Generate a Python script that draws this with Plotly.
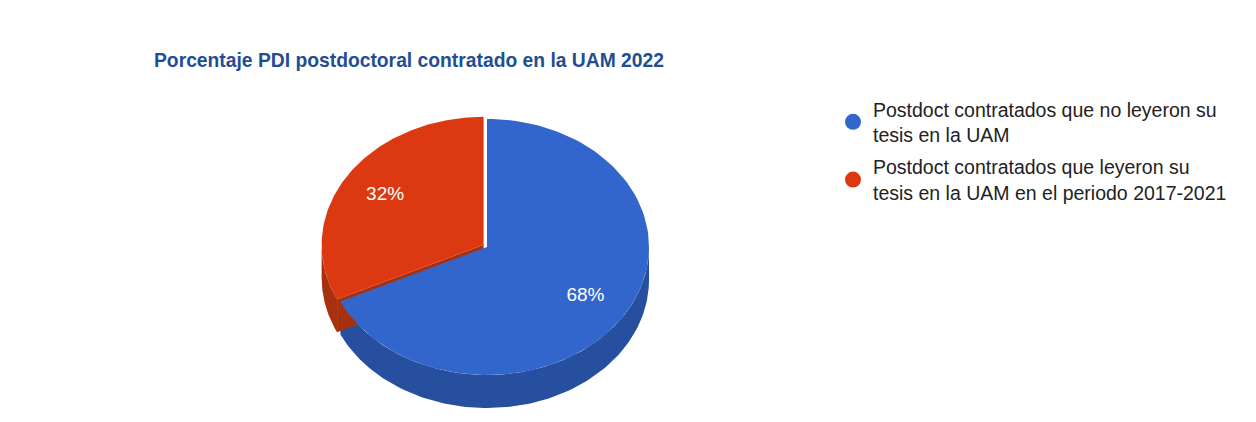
import numpy as np
import plotly.graph_objects as go

title = "Porcentaje PDI postdoctoral contratado en la UAM 2022"
labels = ["Postdoct contratados que no leyeron su<br>tesis en la UAM",
          "Postdoct contratados que leyeron su<br>tesis en la UAM en el periodo 2017-2021"]
values = [68, 32]
colors = ["#3366cc", "#dc3912"]
side_colors = ["#274f9f", "#a9300f"]

FONT = "Arial, Liberation Sans"
W, H = 1240, 406  # page body has an 8px margin

# pie geometry (pixel-like units, y up)
rx, ry, depth = 162, 128, 33
cx, cy = 479, 239
explode = [0, 4]

total = sum(values)
angles = np.cumsum([0] + values) / total * 360.0


def arc(a0, a1, n=120):
    t = np.radians(np.linspace(a0, a1, n))
    return rx * np.sin(t), ry * np.cos(t)


fig = go.Figure()
slices = []
for i, v in enumerate(values):
    a0, a1 = angles[i], angles[i + 1]
    mid = np.radians((a0 + a1) / 2)
    dx, dy = explode[i] * np.sin(mid), explode[i] * np.cos(mid)
    slices.append((a0, a1, dx, dy))

# side walls (front half only: 90..270 deg clockwise from top)
for i, (a0, a1, dx, dy) in enumerate(slices):
    s0, s1 = max(a0, 90), min(a1, 270)
    if s0 < s1:
        x, y = arc(s0, s1)
        xs = np.concatenate([x, x[::-1]]) + dx
        ys = np.concatenate([y, y[::-1] - depth]) + dy
        fig.add_trace(go.Scatter(x=xs, y=ys, fill="toself", mode="lines",
                                 line=dict(width=0, color=side_colors[i]),
                                 fillcolor=side_colors[i], hoverinfo="skip",
                                 showlegend=False))
    # radial face at start angle of the exploded slice
    if explode[i] and 90 < a0 < 270:
        ex, ey = rx * np.sin(np.radians(a0)), ry * np.cos(np.radians(a0))
        fig.add_trace(go.Scatter(x=[0 + dx, ex + dx, ex + dx, 0 + dx],
                                 y=[0 + dy, ey + dy, ey - depth + dy, -depth + dy],
                                 fill="toself", mode="lines",
                                 line=dict(width=0, color=side_colors[i]),
                                 fillcolor=side_colors[i], hoverinfo="skip",
                                 showlegend=False))

# top faces and percentage labels
for i, (a0, a1, dx, dy) in enumerate(slices):
    x, y = arc(a0, a1)
    xs = np.concatenate([[0], x, [0]]) + dx
    ys = np.concatenate([[0], y, [0]]) + dy
    fig.add_trace(go.Scatter(x=xs, y=ys, fill="toself", mode="lines",
                             line=dict(width=0, color=colors[i]),
                             fillcolor=colors[i], hoverinfo="skip",
                             showlegend=False))
    mid = np.radians((a0 + a1) / 2)
    fig.add_trace(go.Scatter(x=[0.72 * rx * np.sin(mid) + dx],
                             y=[0.72 * ry * np.cos(mid) + dy],
                             mode="text", text=[f"{values[i] / total:.0%}"],
                             textfont=dict(color="white", size=19, family=FONT),
                             hoverinfo="skip", showlegend=False))

# legend entries
for i, lab in enumerate(labels):
    fig.add_trace(go.Scatter(x=[None], y=[None], mode="markers", name=lab,
                             legendgroup=f"g{i}",
                             marker=dict(symbol="circle", size=16, color=colors[i])))

fig.add_annotation(text=f"<b>{title}</b>", xref="paper", yref="paper",
                   x=144 / W, y=1 - 52 / H, xanchor="left", yanchor="middle",
                   showarrow=False,
                   font=dict(size=19.3, color="#1f4e93", family=FONT))

fig.update_layout(
    width=W, height=H,
    margin=dict(l=0, r=0, t=0, b=0),
    paper_bgcolor="white", plot_bgcolor="white",
    xaxis=dict(range=[-cx, W - cx], visible=False, fixedrange=True),
    yaxis=dict(range=[cy - H, cy], visible=False, fixedrange=True),
    legend=dict(x=825 / W, y=1 - 82 / H, xanchor="left", yanchor="top",
                font=dict(size=19.5, color="#222222", family=FONT),
                itemsizing="trace", tracegroupgap=4),
)

fig.write_html("out.html")
